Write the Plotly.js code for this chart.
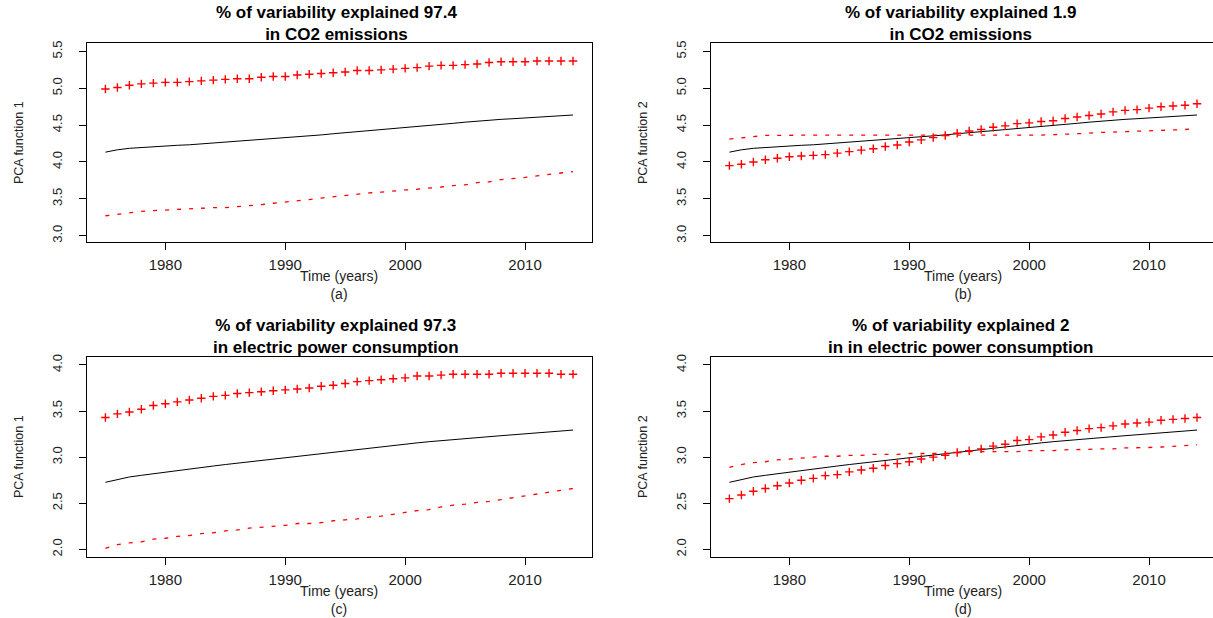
<!DOCTYPE html>
<html>
<head>
<meta charset="utf-8">
<script src="https://cdn.plot.ly/plotly-3.0.1.min.js"></script>
<style>
html, body { margin: 0; padding: 0; overflow: hidden; background: #ffffff; }
#chart { width: 1250px; height: 618px; }
</style>
</head>
<body>
<div id="chart"></div>
<script>
// ---------------- data ----------------
const years = [1975, 1976, 1977, 1978, 1979, 1980, 1981, 1982, 1983, 1984,
               1985, 1986, 1987, 1988, 1989, 1990, 1991, 1992, 1993, 1994,
               1995, 1996, 1997, 1998, 1999, 2000, 2001, 2002, 2003, 2004,
               2005, 2006, 2007, 2008, 2009, 2010, 2011, 2012, 2013, 2014];

// CO2 emissions: mean function
const co2Mean = [4.133, 4.165, 4.185, 4.197, 4.209, 4.219, 4.226, 4.233, 4.245, 4.256,
                 4.267, 4.278, 4.290, 4.301, 4.312, 4.324, 4.338, 4.351, 4.367, 4.383,
                 4.397, 4.410, 4.424, 4.437, 4.449, 4.460, 4.474, 4.487, 4.505, 4.524,
                 4.540, 4.555, 4.567, 4.578, 4.587, 4.596, 4.605, 4.614, 4.626, 4.637];
// CO2 emissions: PCA function 1 (+ / -)
const co2Pc1Plus = [4.99, 5.01, 5.04, 5.06, 5.07, 5.08, 5.08, 5.09, 5.10, 5.11,
                    5.12, 5.13, 5.13, 5.15, 5.16, 5.16, 5.18, 5.19, 5.20, 5.21,
                    5.22, 5.24, 5.24, 5.25, 5.26, 5.27, 5.28, 5.30, 5.31, 5.31,
                    5.32, 5.33, 5.35, 5.36, 5.36, 5.36, 5.37, 5.37, 5.37, 5.37];
const co2Pc1Minus = [3.27, 3.29, 3.32, 3.33, 3.34, 3.35, 3.35, 3.36, 3.37, 3.38,
                     3.38, 3.39, 3.40, 3.42, 3.44, 3.46, 3.48, 3.49, 3.51, 3.53,
                     3.55, 3.56, 3.58, 3.59, 3.61, 3.62, 3.63, 3.64, 3.66, 3.68,
                     3.69, 3.72, 3.73, 3.76, 3.77, 3.79, 3.81, 3.83, 3.85, 3.87];
// CO2 emissions: PCA function 2 (+ / -)
const co2Pc2Plus = [3.95, 3.97, 4.00, 4.03, 4.05, 4.07, 4.08, 4.09, 4.10, 4.12,
                    4.14, 4.16, 4.18, 4.21, 4.23, 4.27, 4.30, 4.33, 4.36, 4.39,
                    4.42, 4.44, 4.47, 4.49, 4.52, 4.53, 4.55, 4.56, 4.59, 4.61,
                    4.63, 4.65, 4.68, 4.70, 4.71, 4.73, 4.75, 4.76, 4.77, 4.79];
const co2Pc2Minus = [4.31, 4.33, 4.35, 4.36, 4.36, 4.365, 4.365, 4.365, 4.365, 4.365,
                     4.365, 4.365, 4.365, 4.365, 4.365, 4.365, 4.36, 4.36, 4.36, 4.36,
                     4.36, 4.355, 4.355, 4.355, 4.355, 4.36, 4.365, 4.37, 4.375, 4.38,
                     4.39, 4.40, 4.405, 4.41, 4.415, 4.42, 4.43, 4.435, 4.44, 4.455];

// Electric power consumption: mean function
const elecMean = [2.727, 2.759, 2.785, 2.803, 2.821, 2.839, 2.856, 2.872, 2.888, 2.904,
                  2.920, 2.935, 2.950, 2.965, 2.980, 2.995, 3.010, 3.022, 3.034, 3.050,
                  3.067, 3.083, 3.098, 3.112, 3.126, 3.140, 3.155, 3.168, 3.180, 3.190,
                  3.200, 3.212, 3.222, 3.233, 3.243, 3.253, 3.263, 3.273, 3.283, 3.294];
// Electric power consumption: PCA function 1 (+ / -)
const elecPc1Plus = [3.43, 3.47, 3.49, 3.52, 3.56, 3.58, 3.60, 3.62, 3.64, 3.66,
                     3.67, 3.69, 3.70, 3.71, 3.72, 3.73, 3.74, 3.75, 3.77, 3.78,
                     3.80, 3.82, 3.83, 3.84, 3.85, 3.86, 3.88, 3.88, 3.89, 3.90,
                     3.90, 3.90, 3.90, 3.91, 3.91, 3.91, 3.91, 3.91, 3.90, 3.90];
const elecPc1Minus = [2.01, 2.05, 2.07, 2.08, 2.11, 2.12, 2.14, 2.15, 2.17, 2.18,
                      2.20, 2.21, 2.23, 2.24, 2.25, 2.26, 2.28, 2.28, 2.29, 2.31,
                      2.32, 2.33, 2.35, 2.36, 2.38, 2.40, 2.42, 2.43, 2.46, 2.48,
                      2.49, 2.51, 2.52, 2.54, 2.56, 2.58, 2.60, 2.62, 2.64, 2.66];
// Electric power consumption: PCA function 2 (+ / -)
const elecPc2Plus = [2.55, 2.59, 2.63, 2.66, 2.69, 2.72, 2.75, 2.77, 2.80, 2.81,
                     2.84, 2.86, 2.88, 2.91, 2.93, 2.95, 2.98, 3.00, 3.02, 3.05,
                     3.07, 3.09, 3.12, 3.14, 3.18, 3.19, 3.22, 3.24, 3.27, 3.29,
                     3.31, 3.32, 3.34, 3.36, 3.37, 3.38, 3.40, 3.41, 3.42, 3.43];
const elecPc2Minus = [2.89, 2.92, 2.94, 2.95, 2.97, 2.98, 2.99, 3.00, 3.01, 3.01,
                      3.02, 3.02, 3.03, 3.03, 3.03, 3.04, 3.04, 3.04, 3.04, 3.05,
                      3.06, 3.06, 3.06, 3.06, 3.06, 3.07, 3.07, 3.07, 3.08, 3.08,
                      3.085, 3.09, 3.09, 3.10, 3.10, 3.105, 3.11, 3.12, 3.13, 3.135];

const titleLine1 = ["% of variability explained 97.4", "% of variability explained 1.9",
                    "% of variability explained 97.3", "% of variability explained 2"];
const titleLine2 = ["in CO2 emissions", "in CO2 emissions",
                    "in electric power consumption", "in in electric power consumption"];
const yLabels = ["PCA function 1", "PCA function 2", "PCA function 1", "PCA function 2"];
const xLabel = "Time (years)";
const subLabels = ["(a)", "(b)", "(c)", "(d)"];
const xTicks = [1980, 1990, 2000, 2010];
const yTicksCO2 = [3.0, 3.5, 4.0, 4.5, 5.0, 5.5];
const yTicksElec = [2.0, 2.5, 3.0, 3.5, 4.0];

// ---------------- figure ----------------
const FONT = "Liberation Sans, Arial, Helvetica, sans-serif";
const panels = [
  {mean: co2Mean,  plus: co2Pc1Plus,  minus: co2Pc1Minus,  yt: yTicksCO2,  yr: [2.91, 5.61], dx: [0.06936, 0.47336], dy: [0.60793, 0.92994]},
  {mean: co2Mean,  plus: co2Pc2Plus,  minus: co2Pc2Minus,  yt: yTicksCO2,  yr: [2.91, 5.61], dx: [0.56856, 0.97256], dy: [0.60793, 0.92994]},
  {mean: elecMean, plus: elecPc1Plus, minus: elecPc1Minus, yt: yTicksElec, yr: [1.92, 4.09], dx: [0.06936, 0.47336], dy: [0.09919, 0.42282]},
  {mean: elecMean, plus: elecPc2Plus, minus: elecPc2Minus, yt: yTicksElec, yr: [1.92, 4.09], dx: [0.56856, 0.97256], dy: [0.09919, 0.42282]}
];

const traces = [];
const layout = {
  width: 1250, height: 618,
  margin: {l: 0, r: 0, t: 0, b: 0, pad: 0},
  paper_bgcolor: "#ffffff", plot_bgcolor: "#ffffff",
  showlegend: false,
  font: {family: FONT, color: "#222222"},
  annotations: []
};

panels.forEach((p, i) => {
  const n = i + 1;
  const xa = "x" + (n === 1 ? "" : n);
  const ya = "y" + (n === 1 ? "" : n);
  traces.push({x: years, y: p.mean, xaxis: xa, yaxis: ya, type: "scatter", mode: "lines",
               line: {color: "#000000", width: 1}, hoverinfo: "skip"});
  traces.push({x: years, y: p.plus, xaxis: xa, yaxis: ya, type: "scatter", mode: "markers",
               marker: {symbol: "cross-thin", size: 6, color: "#ff0000", line: {color: "#ff0000", width: 1.4}},
               hoverinfo: "skip"});
  traces.push({x: years, y: p.minus, xaxis: xa, yaxis: ya, type: "scatter", mode: "lines",
               line: {color: "#ff0000", width: 1.3, dash: "4px,8px"}, hoverinfo: "skip"});

  layout["xaxis" + (n === 1 ? "" : n)] = {
    domain: p.dx, range: [1973.44, 2015.56], anchor: ya,
    tickvals: xTicks, ticktext: xTicks.map(String),
    ticks: "outside", ticklen: 7, tickwidth: 1, tickcolor: "#000000",
    showline: true, linecolor: "#000000", linewidth: 1, mirror: true,
    showgrid: false, zeroline: false, ticklabelstandoff: 2,
    tickfont: {family: FONT, size: 15, color: "#222222"}
  };
  layout["yaxis" + (n === 1 ? "" : n)] = {
    domain: p.dy, range: p.yr, anchor: xa,
    tickvals: p.yt, ticktext: p.yt.map(v => v.toFixed(1)),
    ticks: "outside", ticklen: 7, tickwidth: 1, tickcolor: "#000000",
    showline: true, linecolor: "#000000", linewidth: 1, mirror: true,
    showgrid: false, zeroline: false, tickangle: -90, ticklabelstandoff: 12,
    tickfont: {family: FONT, size: 13, color: "#222222"}
  };

  const xd = xa + " domain", yd = ya + " domain";
  const ann = layout.annotations;
  ann.push({xref: xd, yref: yd, x: 0.5, y: 1, xanchor: "center", yanchor: "middle", yshift: 20, xshift: -3,
            showarrow: false, align: "center",
            text: "<b>" + titleLine1[i] + "</b><br><b>" + titleLine2[i] + "</b>",
            font: {family: FONT, size: 17, color: "#000000"}});
  ann.push({xref: xd, yref: yd, x: 0.5, y: 0, xanchor: "center", yanchor: "middle", yshift: -43,
            showarrow: false, align: "center", text: xLabel + "<br>" + subLabels[i],
            font: {family: FONT, size: 14, color: "#222222"}});
  ann.push({xref: xd, yref: yd, x: 0, y: 0.5, xanchor: "center", yanchor: "middle", xshift: -68.4,
            textangle: -90, showarrow: false, text: yLabels[i], font: {family: FONT, size: 12.5, color: "#222222"}});
});

Plotly.newPlot("chart", traces, layout, {displayModeBar: false, staticPlot: true});
</script>
</body>
</html>
